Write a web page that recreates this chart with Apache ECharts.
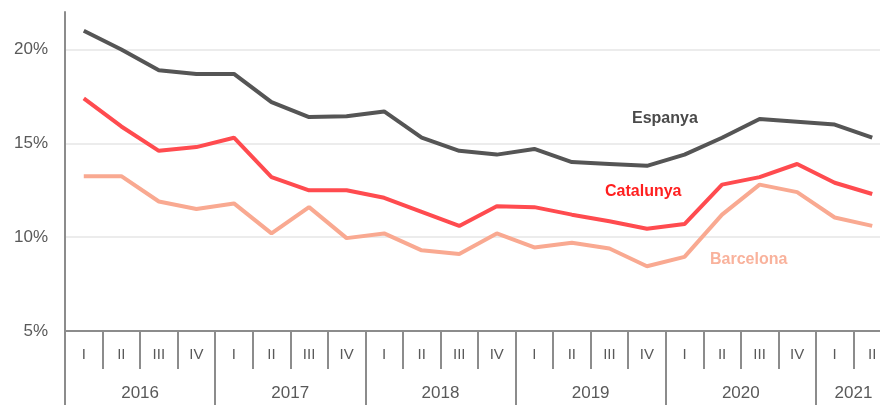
<!DOCTYPE html>
<html>
<head>
<meta charset="utf-8">
<script src="https://cdn.jsdelivr.net/npm/echarts@6/dist/echarts.min.js"></script>
<style>
  html, body { margin: 0; padding: 0; background: #fff; }
  #chart { width: 880px; height: 405px; }
</style>
</head>
<body>
<div id="chart"></div>
<script>
// trimestres 2016 I - 2021 II
var quarters = ['I','II','III','IV','I','II','III','IV','I','II','III','IV','I','II','III','IV','I','II','III','IV','I','II'];
var years = ['2016','2017','2018','2019','2020','2021'];
var yearMid = [2, 6, 10, 14, 18, 21];
var yearEdges = [0, 4, 8, 12, 16, 20, 22];

var espanya   = [21.0, 20.0, 18.9, 18.7, 18.7, 17.2, 16.4, 16.45, 16.7, 15.3, 14.6, 14.4, 14.7, 14.0, 13.9, 13.8, 14.4, 15.3, 16.3, 16.15, 16.0, 15.3];
var catalunya = [17.4, 15.9, 14.6, 14.8, 15.3, 13.2, 12.5, 12.5, 12.1, 11.35, 10.6, 11.65, 11.6, 11.2, 10.85, 10.45, 10.7, 12.8, 13.2, 13.9, 12.9, 12.3];
var barcelona = [13.25, 13.25, 11.9, 11.5, 11.8, 10.2, 11.6, 9.95, 10.2, 9.3, 9.1, 10.2, 9.45, 9.7, 9.4, 8.45, 8.95, 11.2, 12.8, 12.4, 11.05, 10.6];

var chart = echarts.init(document.getElementById('chart'));
var gray = '#595959';
var axisGray = '#8c8c8c';
var font = '"Liberation Sans", sans-serif';

var option = {
  animation: false,
  grid: { left: 65, top: 12, bottom: 74, width: 826, outerBoundsMode: 'none' },
  xAxis: [
    {
      type: 'category',
      data: quarters,
      boundaryGap: true,
      axisLine: { lineStyle: { color: axisGray, width: 2 } },
      axisTick: { show: true, interval: 0, length: 38, lineStyle: { color: axisGray, width: 2 } },
      axisLabel: { interval: 0, margin: 16, color: gray, fontSize: 15, fontFamily: font }
    },
    {
      type: 'value',
      position: 'bottom',
      min: 0, max: 22,
      axisLine: { show: false },
      axisTick: { show: true, customValues: yearEdges, length: 74, lineStyle: { color: axisGray, width: 2 } },
      axisLabel: {
        customValues: yearMid, margin: 54, color: gray, fontSize: 17, fontFamily: font,
        formatter: function (v) { return years[yearMid.indexOf(v)]; }
      },
      splitLine: { show: false }
    }
  ],
  yAxis: {
    type: 'value',
    min: 5, max: 22, interval: 5,
    axisLine: { show: true, lineStyle: { color: axisGray, width: 2 } },
    axisTick: { show: false },
    axisLabel: {
      color: gray, fontSize: 17, fontFamily: font, margin: 17, showMaxLabel: false,
      formatter: function (v) { return v % 5 === 0 ? v + '%' : ''; }
    },
    splitLine: { show: true, showMaxLine: false, lineStyle: { color: '#ececec', width: 2 } }
  },
  series: [
    { name: 'Barcelona', type: 'line', data: barcelona, symbol: 'none', lineStyle: { color: '#f9a991', width: 4 }, z: 1 },
    { name: 'Catalunya', type: 'line', data: catalunya, symbol: 'none', lineStyle: { color: '#ff4b4f', width: 4 }, z: 2 },
    { name: 'Espanya', type: 'line', data: espanya, symbol: 'none', lineStyle: { color: '#555555', width: 4 }, z: 3 }
  ],
  graphic: [
    { type: 'text', left: 632, top: 111, style: { text: 'Espanya', fill: '#4a4a4a', font: 'bold 16px "Liberation Sans"' } },
    { type: 'text', left: 605, top: 184, style: { text: 'Catalunya', fill: '#ff1f1f', font: 'bold 16px "Liberation Sans"' } },
    { type: 'text', left: 710, top: 252, style: { text: 'Barcelona', fill: '#f9b29c', font: 'bold 16px "Liberation Sans"' } }
  ]
};
chart.setOption(option);
</script>
</body>
</html>
